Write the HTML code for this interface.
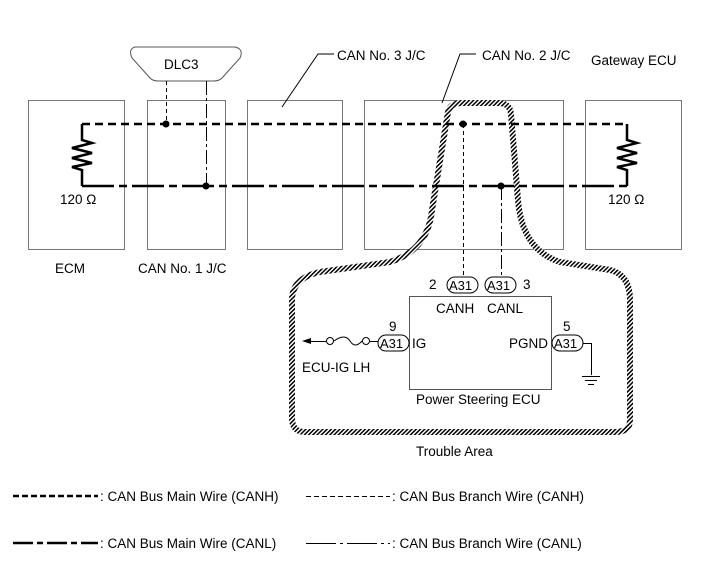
<!DOCTYPE html>
<html><head><meta charset="utf-8"><style>
html,body{margin:0;padding:0;background:#fff}
svg{display:block}
text{font-family:"Liberation Sans",Arial,sans-serif;font-size:13.5px;fill:#000}
text.c{font-size:13px}
</style></head><body>
<svg width="713" height="581" viewBox="0 0 713 581" xmlns="http://www.w3.org/2000/svg">
<defs>
<pattern id="h" width="3" height="3" patternUnits="userSpaceOnUse" patternTransform="rotate(45)">
<rect width="3" height="3" fill="#fff"/><rect width="1.5" height="3" fill="#000"/>
</pattern>
</defs>
<g fill="none" stroke="#777" stroke-width="1">
<rect x="28.5" y="100.5" width="96" height="149"/>
<rect x="147.5" y="100.5" width="78" height="149"/>
<rect x="247.5" y="100.5" width="95" height="149"/>
<rect x="364.5" y="100.5" width="199" height="149"/>
<rect x="585.5" y="100.5" width="96" height="149"/>
</g>
<path d="M448 112 Q450 103 462 103 L498 103 Q510 103 511 114 L518 200 Q522 250 560 262 L610 270 Q630 275 630 300 L630 420 Q630 432 615 432 L305 432 Q292 432 292 418 L292 300 Q292 278 320 272 L390 262 Q428 250 432 210 Z" fill="none" stroke="url(#h)" stroke-width="6"/>
<path d="M135 47 L235 47 Q244 49 240 58 L222 78 Q219 81 214 81 L158 81 Q153 81 150 78 L132 58 Q128 49 135 47 Z" fill="#fff" stroke="#555"/>
<text x="164" y="69">DLC3</text>
<g stroke="#000" stroke-width="1" fill="none">
<line x1="166.5" y1="81" x2="166.5" y2="124" stroke-dasharray="4,3"/>
<line x1="206.5" y1="81" x2="206.5" y2="186" stroke-dasharray="14,3,3,3"/>
<line x1="463.5" y1="124" x2="463.5" y2="277" stroke-dasharray="4,3"/>
<line x1="501.5" y1="186" x2="501.5" y2="277" stroke-dasharray="14,3,3,3"/>
</g>
<g stroke="#000" stroke-width="2.5" fill="none">
<line x1="82" y1="124" x2="627" y2="124" stroke-dasharray="8,5"/>
<line x1="82" y1="186" x2="627" y2="186" stroke-dasharray="32,5,8,5"/>
<path d="M82 124 V140 L92 143 L72 148 L92 153 L72 158 L92 163 L72 167 L82 170 V186"/>
<path d="M627 124 V140 L637 143 L617 148 L637 153 L617 158 L637 163 L617 167 L627 170 V186"/>
</g>
<g fill="#000"><circle cx="166" cy="124" r="3.5"/><circle cx="206" cy="186" r="3.5"/><circle cx="463" cy="124" r="3.5"/><circle cx="501" cy="186" r="3.5"/></g>
<text x="60" y="204">120 Ω</text><text x="608" y="204">120 Ω</text>
<text x="55" y="273">ECM</text><text x="138" y="273">CAN No. 1 J/C</text>
<g stroke="#000" fill="none"><polyline points="282,107 318,54 334,54"/><polyline points="442,103 460,54 476,54"/></g>
<text x="337" y="60">CAN No. 3 J/C</text><text x="482" y="60">CAN No. 2 J/C</text>
<text x="591" y="65">Gateway ECU</text>
<rect x="409.5" y="296.5" width="142" height="93" fill="none" stroke="#555"/>
<g fill="#fff" stroke="#000"><rect x="447" y="277" width="31" height="16" rx="8"/><rect x="485" y="277" width="31" height="16" rx="8"/>
<rect x="378" y="335" width="31" height="16" rx="8"/><rect x="552" y="335" width="31" height="16" rx="8"/></g>
<text class="c" x="449" y="290">A31</text><text class="c" x="487" y="290">A31</text><text class="c" x="380" y="348">A31</text><text class="c" x="554" y="348">A31</text>
<text x="429" y="289">2</text><text x="523" y="289">3</text><text x="436" y="313">CANH</text><text x="487" y="313">CANL</text>
<text x="389" y="331">9</text><text x="563" y="331">5</text><text x="412" y="348">IG</text><text x="509" y="348">PGND</text>
<g stroke="#000" fill="none"><polyline points="583,343.5 591.5,343.5 591.5,375"/><line x1="582" y1="376.5" x2="600" y2="376.5"/><line x1="585" y1="380.5" x2="597" y2="380.5"/><line x1="588" y1="384.5" x2="594" y2="384.5"/>
<line x1="310" y1="341.5" x2="326" y2="341.5"/><circle cx="330" cy="341" r="3.5" fill="#fff"/><path d="M334 341 Q345 333 350 341 T362 341"/><circle cx="366" cy="341" r="3.5" fill="#fff"/><line x1="370" y1="341.5" x2="378" y2="341.5"/></g>
<path d="M302 341 L311 338 L311 344 Z" fill="#000"/>
<text x="302" y="372">ECU-IG LH</text>
<text x="416" y="404">Power Steering ECU</text>
<text x="416" y="456">Trouble Area</text>
<g stroke="#000" fill="none">
<line x1="13" y1="496" x2="98" y2="496" stroke-width="2.5" stroke-dasharray="6,3"/>
<line x1="306" y1="496.5" x2="390" y2="496.5" stroke-dasharray="5,3"/>
<line x1="13" y1="543" x2="98" y2="543" stroke-width="2.5" stroke-dasharray="20,4,6,4"/>
<line x1="306" y1="543.5" x2="390" y2="543.5" stroke-dasharray="30,4,3,4"/>
</g>
<text x="100" y="501">: CAN Bus Main Wire (CANH)</text>
<text x="392" y="501">: CAN Bus Branch Wire (CANH)</text>
<text x="100" y="548">: CAN Bus Main Wire (CANL)</text>
<text x="392" y="548">: CAN Bus Branch Wire (CANL)</text>
</svg>
</body></html>
